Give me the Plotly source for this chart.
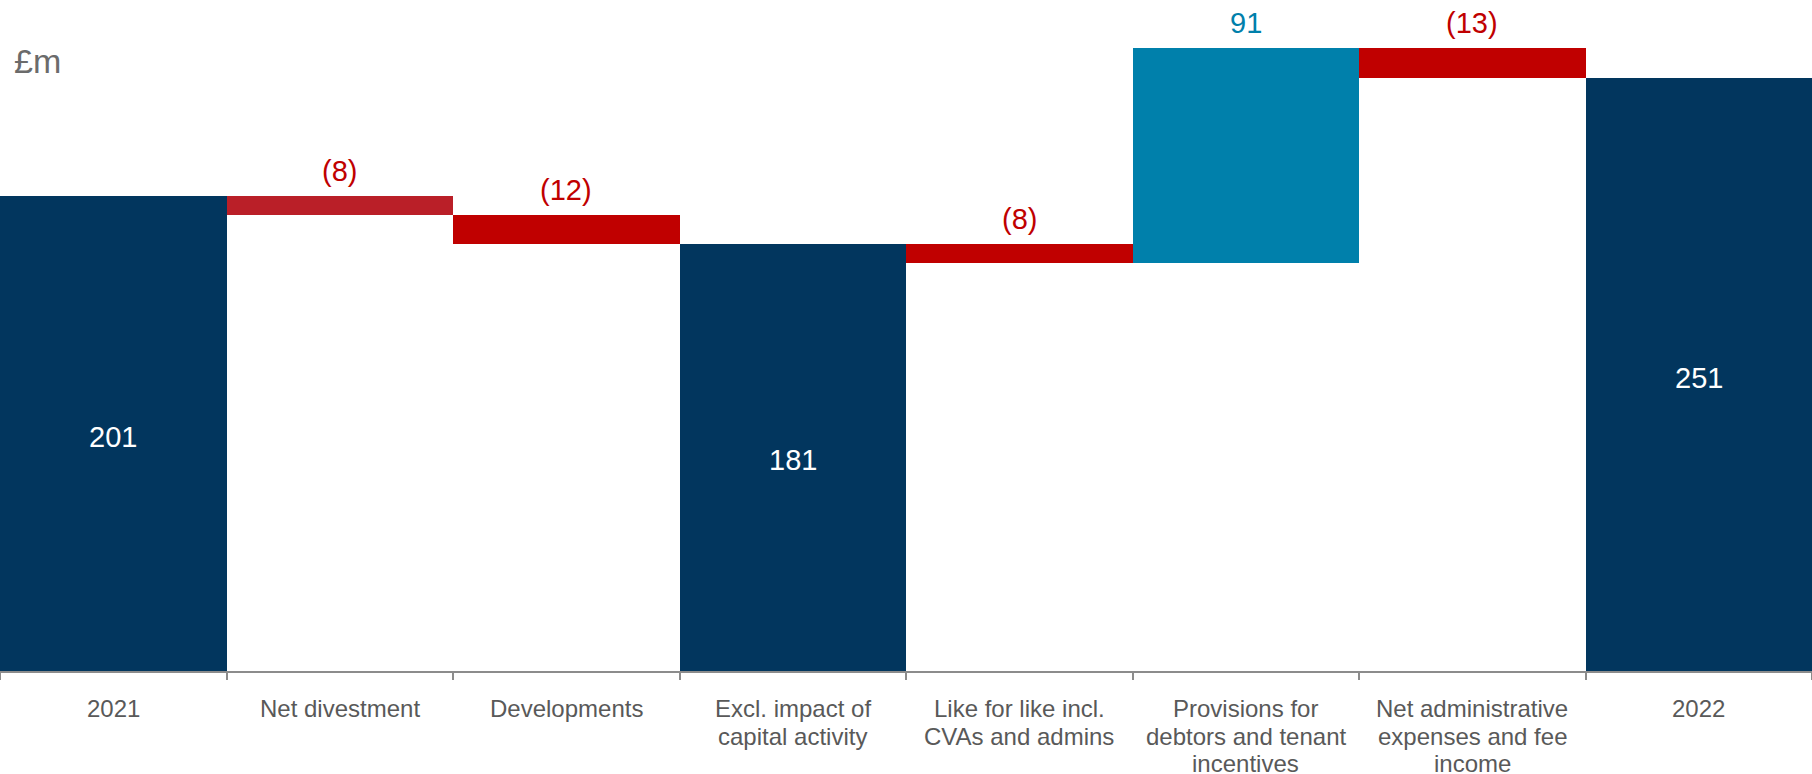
import plotly.graph_objects as go

# Bridge of £m values from 2021 to 2022
categories = [
    "2021",
    "Net divestment",
    "Developments",
    "Excl. impact of<br>capital activity",
    "Like for like incl.<br>CVAs and admins",
    "Provisions for<br>debtors and tenant<br>incentives",
    "Net administrative<br>expenses and fee<br>income",
    "2022",
]
values = [201, -8, -12, 181, -8, 91, -13, 251]
is_total = [True, False, False, True, False, False, False, True]
bar_colors = ["#02365E", "#BA1F28", "#C00000", "#02365E", "#C00000", "#0080AB", "#C00000", "#02365E"]

NAVY_TEXT = "#FFFFFF"
NEG_TEXT = "#C00000"
POS_TEXT = "#0080AB"
LABEL_GREY = "#595959"
FONT = "Arial, Liberation Sans, sans-serif"

# Floating-bar geometry: totals start at zero, steps start at the running level
bases, heights, tops = [], [], []
level = 0
for v, tot in zip(values, is_total):
    if tot:
        bases.append(0)
        heights.append(v)
        level = v
        tops.append(v)
    else:
        new_level = level + v
        bases.append(min(level, new_level))
        heights.append(abs(v))
        tops.append(max(level, new_level))
        level = new_level

positions = list(range(len(categories)))

fig = go.Figure()
fig.add_trace(go.Bar(
    x=positions,
    y=heights,
    base=bases,
    marker=dict(color=bar_colors, line=dict(width=0)),
    width=1.0,
    hoverinfo="skip",
))

def fmt(v):
    return f"({abs(v)})" if v < 0 else f"{v}"

annotations = []
for i, v, tot, b, h, top in zip(positions, values, is_total, bases, heights, tops):
    if tot:
        annotations.append(dict(
            x=i, y=b + h / 2, text=fmt(v), showarrow=False,
            xanchor="center", yanchor="middle", yshift=-3,
            font=dict(family=FONT, size=29, color=NAVY_TEXT),
        ))
    else:
        annotations.append(dict(
            x=i, y=top, text=fmt(v), showarrow=False,
            xanchor="center", yanchor="bottom", yshift=7,
            font=dict(family=FONT, size=29, color=NEG_TEXT if v < 0 else POS_TEXT),
        ))

# Category labels under the axis, one line at a time for tight line spacing
LINE_OFFSETS = [-37, -65, -92]
for i, cat in zip(positions, categories):
    for k, line in enumerate(cat.split("<br>")):
        annotations.append(dict(
            x=i, xref="x", y=0, yref="paper", text=line, showarrow=False,
            xanchor="center", yanchor="middle", yshift=LINE_OFFSETS[k],
            font=dict(family=FONT, size=24, color=LABEL_GREY),
        ))

# Unit label in the top-left corner
annotations.append(dict(
    xref="paper", yref="paper", x=0, y=1, xanchor="left", yanchor="middle",
    xshift=12, yshift=-61, text="£m", showarrow=False,
    font=dict(family=FONT, size=34, color="#6B6B6B"),
))

fig.update_layout(
    width=1812, height=774,
    margin=dict(l=0, r=0, t=0, b=103),
    paper_bgcolor="white", plot_bgcolor="white",
    showlegend=False,
    bargap=0,
    annotations=annotations,
    font=dict(family=FONT),
)
# Tick marks fall on the boundaries between bars
fig.update_xaxes(
    range=[-0.5, len(categories) - 0.5],
    automargin=False,
    tickmode="array", tickvals=[p - 0.5 for p in positions] + [len(categories) - 0.5],
    showticklabels=False,
    ticks="outside", ticklen=7, tickwidth=1.5, tickcolor="#8C8C8C",
    showline=True, linecolor="#8C8C8C", linewidth=1.5,
    showgrid=False, zeroline=False,
    fixedrange=True,
)
fig.update_yaxes(
    range=[0, 284.2],
    automargin=False,
    visible=False, showgrid=False, zeroline=False,
    fixedrange=True,
)

fig.write_html("out.html", config=dict(displayModeBar=False))
